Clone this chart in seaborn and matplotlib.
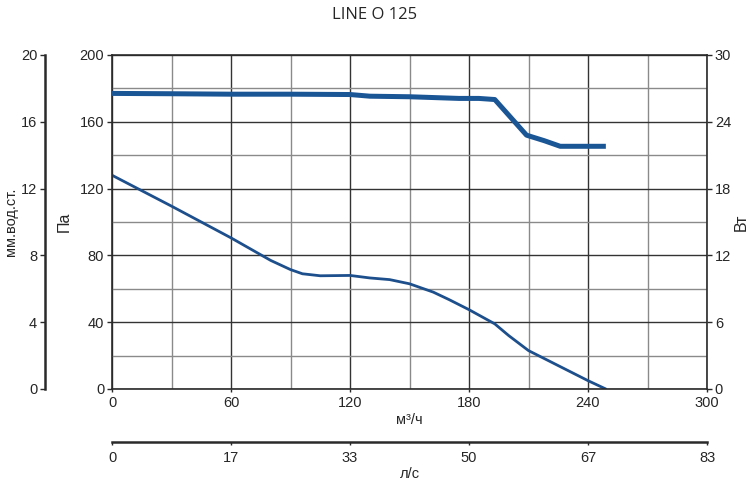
import numpy as np
import pandas as pd
import matplotlib
matplotlib.use("Agg")
import matplotlib.pyplot as plt
import seaborn as sns

# расход, м3/ч -> давление, Па
flow_pa = [0, 30, 60, 80, 90, 96, 105, 120, 130, 140, 150, 162, 170, 180, 193, 200, 210, 225, 240, 249]
pressure = [128, 109.5, 90.5, 77, 71.5, 69, 67.8, 68, 66.5, 65.5, 63, 58, 53.5, 47.5, 39, 32, 23, 14, 5, 0]

# расход, м3/ч -> мощность, Вт
flow_w = [0, 30, 60, 90, 120, 130, 150, 175, 185, 193, 209, 218, 226, 240, 249]
power = [26.55, 26.52, 26.48, 26.48, 26.45, 26.3, 26.25, 26.1, 26.1, 26.0, 22.8, 22.3, 21.8, 21.8, 21.8]

x_ticks = [0, 60, 120, 180, 240, 300]
ls_labels = ["0", "17", "33", "50", "67", "83"]
pa_ticks = [0, 40, 80, 120, 160, 200]
mm_ticks = [0, 4, 8, 12, 16, 20]
w_ticks = [0, 6, 12, 18, 24, 30]

sns.set_style("white")
plt.rcParams['font.family'] = ['Liberation Sans', 'DejaVu Sans']
plt.rcParams['font.size'] = 10.5

df_pa = pd.DataFrame({"flow": flow_pa, "pa": pressure})
df_w = pd.DataFrame({"flow": flow_w, "w": power})

PX = 72 / 100  # пиксели -> пункты
FS = 10.5

fig = plt.figure(figsize=(7.5, 4.84), dpi=100)
ax = fig.add_axes([112 / 750, 95 / 484, 595 / 750, 334 / 484])

dark = "#2a2a2a"
ax.set_xlim(0, 300)
ax.set_ylim(0, 200)
ax.set_xticks(x_ticks)
ax.set_xticks([30, 90, 150, 210, 270], minor=True)
ax.set_yticks(pa_ticks)
ax.set_yticks([20, 60, 100, 140, 180], minor=True)
ax.grid(which="major", color="#333333", linewidth=1.0)
ax.grid(which="minor", color="#8a8a8a", linewidth=1.0)
ax.tick_params(which="minor", length=0)
ax.tick_params(which="major", direction="out", length=5 * PX, width=1, color=dark, pad=2, labelsize=FS)
ax.tick_params(axis="x", length=3 * PX, pad=3)
for s in ax.spines.values():
    s.set_color(dark)
    s.set_linewidth(1.2)
ax.set_axisbelow(True)

sns.lineplot(data=df_pa, x="flow", y="pa", ax=ax, color="#1d4f8c", linewidth=2.0, sort=False)
ax.set_xlabel("м³/ч", fontsize=FS, labelpad=2)
ax.set_ylabel("Па", fontsize=11.5, labelpad=6)

# правая ось, Вт
ax_w = ax.twinx()
ax_w.set_ylim(0, 30)
ax_w.set_yticks(w_ticks)
ax_w.tick_params(direction="out", length=5 * PX, width=1, color=dark, pad=2, labelsize=FS)
sns.lineplot(data=df_w, x="flow", y="w", ax=ax_w, color="#1a5596", linewidth=3.6,
             sort=False, solid_capstyle="butt")
ax_w.set_ylabel("Вт", fontsize=11.5, labelpad=2)
for s in ax_w.spines.values():
    s.set_visible(False)
ax_w.set_xlim(0, 300)
ax_w.set_xlabel("")

# левая внешняя ось, мм.вод.ст.
ax_mm = ax.twinx()
ax_mm.set_ylim(0, 20)
ax_mm.set_yticks(mm_ticks)
ax_mm.yaxis.set_ticks_position("left")
ax_mm.yaxis.set_label_position("left")
for s in ax_mm.spines.values():
    s.set_visible(False)
ax_mm.spines["left"].set_visible(True)
ax_mm.spines["left"].set_position(("outward", 67 * PX))
ax_mm.spines["left"].set_color(dark)
ax_mm.spines["left"].set_linewidth(1.8)
ax_mm.tick_params(direction="out", length=5 * PX, width=1, color=dark, pad=2, labelsize=FS)
ax_mm.set_ylabel("мм.вод.ст.", fontsize=FS, labelpad=2)

# нижняя ось, л/с
ax_ls = ax.twiny()
ax_ls.set_xlim(0, 300)
ax_ls.set_xticks(x_ticks)
ax_ls.set_xticklabels(ls_labels)
ax_ls.xaxis.set_ticks_position("bottom")
ax_ls.xaxis.set_label_position("bottom")
for s in ax_ls.spines.values():
    s.set_visible(False)
ax_ls.spines["bottom"].set_visible(True)
ax_ls.spines["bottom"].set_position(("outward", 53 * PX))
ax_ls.spines["bottom"].set_color(dark)
ax_ls.spines["bottom"].set_linewidth(1.8)
ax_ls.tick_params(direction="out", length=3 * PX, width=1, color=dark, pad=4, labelsize=FS)
ax_ls.set_xlabel("л/с", fontsize=FS, labelpad=2)

fig.suptitle("LINE O 125", x=0.5, y=0.985, fontsize=12, family=["Open Sans", "DejaVu Sans"])

fig.savefig("out.png", dpi=100)
